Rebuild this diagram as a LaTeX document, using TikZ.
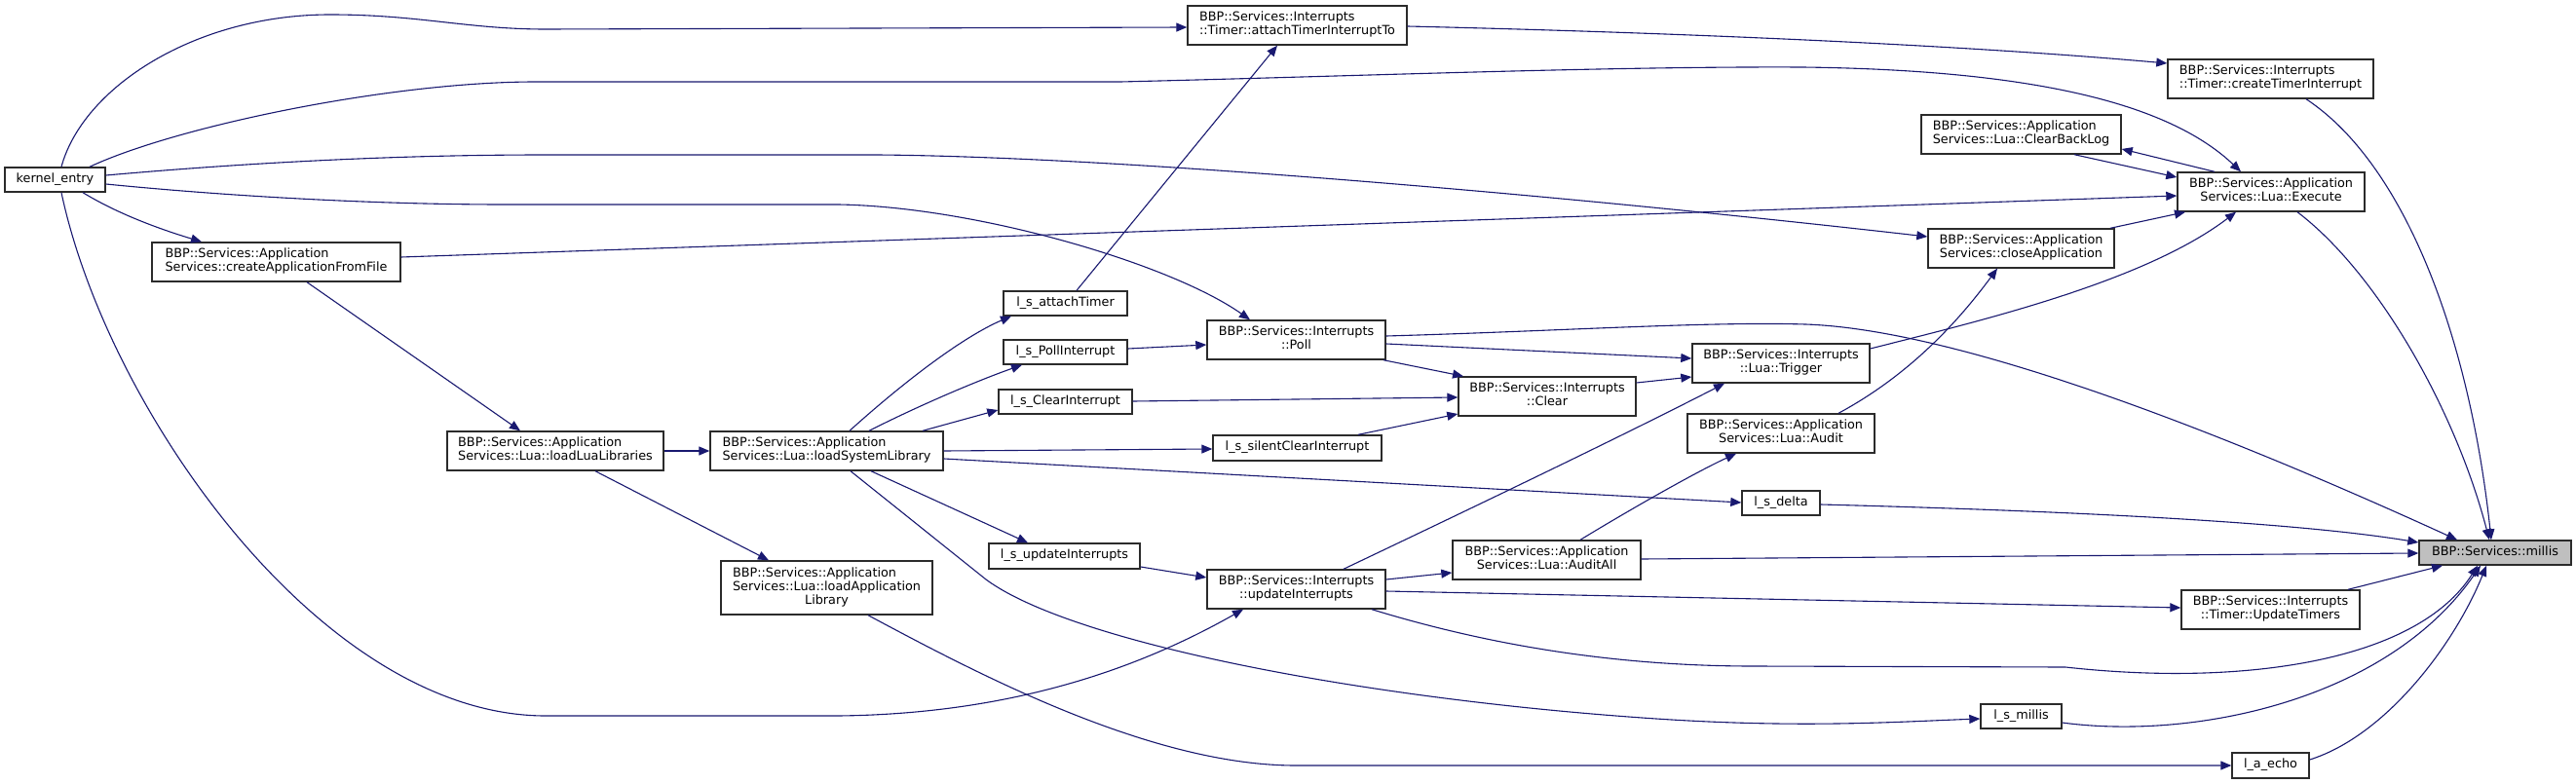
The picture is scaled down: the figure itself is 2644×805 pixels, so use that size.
\documentclass[tikz,border=0pt]{standalone}
\usepackage{fontspec}
\setmainfont{DejaVu Sans}
\usetikzlibrary{arrows.meta}
\definecolor{edgec}{HTML}{191970}
\definecolor{boxc}{HTML}{2B2B2B}
\definecolor{hlc}{HTML}{BFBFBF}
\newcommand\lblA[2]{\begin{tabular}{@{}l@{}}#1\\\multicolumn{1}{@{}c@{}}{#2}\end{tabular}}
\newcommand\lblB[3]{\begin{tabular}{@{}l@{}}#1\\#2\\\multicolumn{1}{@{}c@{}}{#3}\end{tabular}}
\begin{document}
\begin{tikzpicture}[x=1pt,y=-1pt,
  fn/.style={draw=boxc,line width=1.4pt,fill=white,rectangle,inner sep=0pt,
    font=\fontsize{12.8}{14}\selectfont},
  cur/.style={fn,fill=hlc},
  call/.style={draw=edgec,line width=1.1pt,-{Triangle[length=11pt,width=9pt]}}]
\path[use as bounding box,fill=white] (0,0) rectangle (2644,805);

% nodes
\node[fn,minimum width=103pt,minimum height=25pt] (ke) at (56.5,184.5) {\strut kernel\_entry};
\node[fn,minimum width=255pt,minimum height=40pt] (cafff) at (283.5,269) {\lblA{BBP::Services::Application}{Services::createApplicationFromFile}};
\node[fn,minimum width=222pt,minimum height=40pt] (llua) at (570,463) {\lblA{BBP::Services::Application}{Services::Lua::loadLuaLibraries}};
\node[fn,minimum width=239pt,minimum height=40pt] (lsys) at (848.5,463) {\lblA{BBP::Services::Application}{Services::Lua::loadSystemLibrary}};
\node[fn,minimum width=217pt,minimum height=55pt] (lapp) at (848.5,603.5) {\lblB{BBP::Services::Application}{Services::Lua::loadApplication}{Library}};
\node[fn,minimum width=127pt,minimum height=25pt] (sat) at (1093.5,311.5) {\strut l\_s\_attachTimer};
\node[fn,minimum width=127pt,minimum height=25pt] (spi) at (1093.5,361.5) {\strut l\_s\_PollInterrupt};
\node[fn,minimum width=137pt,minimum height=25pt] (sci) at (1093.5,412.5) {\strut l\_s\_ClearInterrupt};
\node[fn,minimum width=173pt,minimum height=26pt] (ssci) at (1331.5,460) {\strut l\_s\_silentClearInterrupt};
\node[fn,minimum width=155pt,minimum height=26pt] (sui) at (1092.5,571) {\strut l\_s\_updateInterrupts};
\node[fn,minimum width=225pt,minimum height=40pt] (ati) at (1331.5,26) {\lblA{BBP::Services::Interrupts}{::Timer::attachTimerInterruptTo}};
\node[fn,minimum width=183pt,minimum height=40pt] (poll) at (1330.5,349) {\lblA{BBP::Services::Interrupts}{::Poll}};
\node[fn,minimum width=183pt,minimum height=40pt] (ui) at (1330.5,605) {\lblA{BBP::Services::Interrupts}{::updateInterrupts}};
\node[fn,minimum width=182pt,minimum height=40pt] (clear) at (1588,407) {\lblA{BBP::Services::Interrupts}{::Clear}};
\node[fn,minimum width=193pt,minimum height=40pt] (auditall) at (1587.5,575) {\lblA{BBP::Services::Application}{Services::Lua::AuditAll}};
\node[fn,minimum width=182pt,minimum height=40pt] (trigger) at (1828,373) {\lblA{BBP::Services::Interrupts}{::Lua::Trigger}};
\node[fn,minimum width=192pt,minimum height=40pt] (audit) at (1828,445) {\lblA{BBP::Services::Application}{Services::Lua::Audit}};
\node[fn,minimum width=80pt,minimum height=25pt] (sdelta) at (1828,516.5) {\strut l\_s\_delta};
\node[fn,minimum width=205pt,minimum height=40pt] (cbl) at (2074.5,138) {\lblA{BBP::Services::Application}{Services::Lua::ClearBackLog}};
\node[fn,minimum width=191pt,minimum height=40pt] (close) at (2074.5,255) {\lblA{BBP::Services::Application}{Services::closeApplication}};
\node[fn,minimum width=211pt,minimum height=40pt] (cti) at (2330.5,81) {\lblA{BBP::Services::Interrupts}{::Timer::createTimerInterrupt}};
\node[fn,minimum width=192pt,minimum height=40pt] (exec) at (2331,197) {\lblA{BBP::Services::Application}{Services::Lua::Execute}};
\node[fn,minimum width=183pt,minimum height=40pt] (ut) at (2330.5,626) {\lblA{BBP::Services::Interrupts}{::Timer::UpdateTimers}};
\node[fn,minimum width=83pt,minimum height=25pt] (smillis) at (2074.5,735.5) {\strut l\_s\_millis};
\node[fn,minimum width=79pt,minimum height=26pt] (echo) at (2330.5,786) {\strut l\_a\_echo};
\node[cur,minimum width=156pt,minimum height=25pt] (millis) at (2561,567.5) {\strut BBP::Services::millis};

% connectors
\draw[call] (ke.south -| 85,0) .. controls (125,222) and (170,237) .. (cafff.north -| 207,0);
\draw[call] (cafff.south -| 315,0) -- (llua.north -| 534,0);
\draw[call] (llua.east |- 0,463) -- (lsys.west |- 0,463);
\draw[call] (llua.south -| 611,0) -- (lapp.north -| 789,0);
\draw[call] (lsys.north -| 872,0) .. controls (930,390) and (990,345) .. (sat.south -| 1038,0);
\draw[call] (lsys.north -| 892,0) .. controls (940,418) and (1000,392) .. (spi.south -| 1049,0);
\draw[call] (lsys.north -| 947,0) -- (sci.west |- 0,421);
\draw[call] (lsys.east |- 0,463) -- (ssci.west |- 0,461);
\draw[call] (lsys.east |- 0,471) -- (sdelta.west |- 0,516);
\draw[call] (lsys.south -| 894,0) -- (sui.north -| 1055,0);
\draw[call] (sui.east |- 0,582) -- (ui.west |- 0,593);
\draw[call] (lsys.south -| 873,0) -- (1012,595) .. controls (1100,660) and (1400,718) .. (1700,738) .. controls (1850,748) and (1950,741) .. (smillis.west |- 0,738);
\draw[call] (lapp.south -| 891,0) .. controls (1000,690) and (1180,786) .. (1330,786) -- (echo.west |- 0,786);
\draw[call] (ke.north -| 63,0) .. controls (85,90) and (200,15) .. (339,15) .. controls (430,15) and (480,30) .. (560,30) -- (ati.west |- 0,28);
\draw[call] (ke.north -| 92,0) .. controls (180,130) and (400,84) .. (550,84) -- (1150,84) .. controls (1400,78) and (1650,68) .. (1850,69) .. controls (2100,72) and (2230,110) .. (exec.north -| 2300,0);
\draw[call] (ke.east |- 0,189) .. controls (250,203) and (400,210) .. (517,210) -- (860,210) .. controls (1000,212) and (1200,270) .. (poll.north -| 1283,0);
\draw[call] (ke.east |- 0,180) .. controls (300,163) and (450,159) .. (560,159) -- (900,159) .. controls (1150,161) and (1600,200) .. (close.west |- 0,243);
\draw[call] (ke.south -| 63,0) .. controls (110,420) and (330,735) .. (560,735) -- (860,735) .. controls (1050,733) and (1180,680) .. (ui.south -| 1276,0);
\draw[call] (cafff.east |- 0,264) -- (exec.west |- 0,201);
\draw[call] (ati.east |- 0,27) .. controls (1700,33) and (2000,45) .. (cti.west |- 0,65);
\draw[call] (sat.north -| 1105,0) -- (ati.south -| 1311,0);
\draw[call] (spi.east |- 0,358) -- (poll.west |- 0,354);
\draw[call] (poll.east |- 0,353) -- (trigger.west |- 0,368);
\draw[call] (poll.south -| 1420,0) -- (clear.north -| 1502,0);
\draw[call] (poll.east |- 0,345) .. controls (1600,340) and (1750,330) .. (1853,333) .. controls (2000,338) and (2250,430) .. (millis.north -| 2522,0);
\draw[call] (sci.east |- 0,412) -- (clear.west |- 0,408);
\draw[call] (ssci.north -| 1394,0) -- (clear.west |- 0,425);
\draw[call] (clear.east |- 0,393) -- (trigger.west |- 0,387);
\draw[call] (trigger.east |- 0,358) .. controls (2030,330) and (2200,290) .. (exec.south -| 2295,0);
\draw[call] (ui.north -| 1379,0) .. controls (1550,503) and (1680,440) .. (trigger.south -| 1770,0);
\draw[call] (ui.east |- 0,595) -- (auditall.west |- 0,588);
\draw[call] (ui.east |- 0,607) -- (ut.west |- 0,624);
\draw[call] (ui.south -| 1408,0) .. controls (1520,660) and (1650,684) .. (1800,684) -- (2120,685) .. controls (2300,705) and (2480,680) .. (millis.south -| 2543,0);
\draw[call] (auditall.north -| 1622,0) .. controls (1670,525) and (1740,485) .. (audit.south -| 1782,0);
\draw[call] (auditall.east |- 0,574) -- (millis.west |- 0,568);
\draw[call] (sdelta.east |- 0,518) .. controls (2100,524) and (2350,535) .. (millis.west |- 0,557);
\draw[call] (ut.north -| 2410,0) -- (millis.south -| 2507,0);
\draw[call] (smillis.east |- 0,742) .. controls (2250,760) and (2450,720) .. (millis.south -| 2546,0);
\draw[call] (echo.east |- 0,780) .. controls (2450,755) and (2520,660) .. (millis.south -| 2552,0);
\draw[call] (exec.north -| 2273,0) -- (cbl.east |- 0,153);
\draw[call] (cbl.south -| 2129,0) -- (exec.west |- 0,182);
\draw[call] (close.north -| 2166,0) -- (exec.south -| 2243,0);
\draw[call] (exec.south -| 2358,0) .. controls (2440,280) and (2520,420) .. (millis.north -| 2555,0);
\draw[call] (cti.south -| 2367,0) .. controls (2470,170) and (2535,350) .. (millis.north -| 2557,0);
\draw[call] (audit.north -| 1887,0) .. controls (1960,385) and (2010,330) .. (close.south -| 2050,0);
\end{tikzpicture}
\end{document}
